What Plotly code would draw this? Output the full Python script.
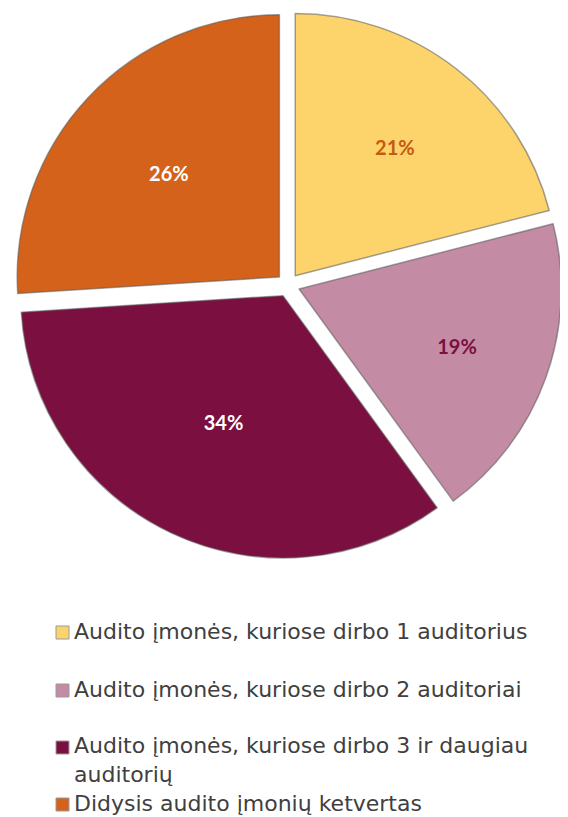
import plotly.graph_objects as go

labels = [
    "Audito įmonės, kuriose dirbo 1 auditorius",
    "Audito įmonės, kuriose dirbo 2 auditoriai",
    "Audito įmonės, kuriose dirbo 3 ir daugiau auditorių",
    "Didysis audito įmonių ketvertas",
]
legend_text = [
    "Audito įmonės, kuriose dirbo 1 auditorius",
    "Audito įmonės, kuriose dirbo 2 auditoriai",
    "Audito įmonės, kuriose dirbo 3 ir daugiau<br>auditorių",
    "Didysis audito įmonių ketvertas",
]
values = [21, 19, 34, 26]
colors = ["#FDD46C", "#C38BA4", "#7B0F40", "#D4621A"]
text_colors = ["#C55A11", "#7B0F40", "#FFFFFF", "#FFFFFF"]

# the page body adds an 8px margin, so the figure is drawn 8px smaller
OFF = 8
W, H = 568 - OFF, 817 - OFF


def px(x):
    return (x - OFF) / W


def py(y):
    return 1 - (y - OFF) / H


fig = go.Figure()
fig.add_trace(go.Pie(
    labels=labels,
    values=values,
    sort=False,
    direction="clockwise",
    rotation=0,
    pull=[0.045, 0.045, 0.045, 0.045],
    marker=dict(colors=colors, line=dict(color="rgba(90,90,90,0.55)", width=1.5)),
    texttemplate="%{percent:.0%}",
    textposition="inside",
    insidetextorientation="horizontal",
    textfont=dict(family="Lato", size=20, color=text_colors, weight="bold"),
    domain=dict(x=[px(14), px(562)], y=[py(559), py(11)]),
    showlegend=False,
    hoverinfo="label+percent",
))

# Manual legend (row centres in page pixels)
leg_y = [631, 689, 746, 803]
FS = 22
for i, (t, c) in enumerate(zip(legend_text, colors)):
    y = leg_y[i]
    fig.add_shape(
        type="rect", xref="paper", yref="paper",
        x0=px(56), x1=px(69), y0=py(y + 8), y1=py(y - 5),
        fillcolor=c, line=dict(color="#9A9A9A", width=1),
    )
    nlines = t.count("<br>") + 1
    fig.add_annotation(
        x=px(72), y=py(y + 0.62 * FS * (nlines - 1)), xref="paper", yref="paper",
        xanchor="left", yanchor="middle", align="left",
        text=t, showarrow=False,
        font=dict(family="DejaVu Sans", size=FS, color="#404040"),
    )

fig.update_layout(
    width=W, height=H,
    margin=dict(l=0, r=0, t=0, b=0),
    paper_bgcolor="white",
    plot_bgcolor="white",
)

fig.write_html("out.html")
